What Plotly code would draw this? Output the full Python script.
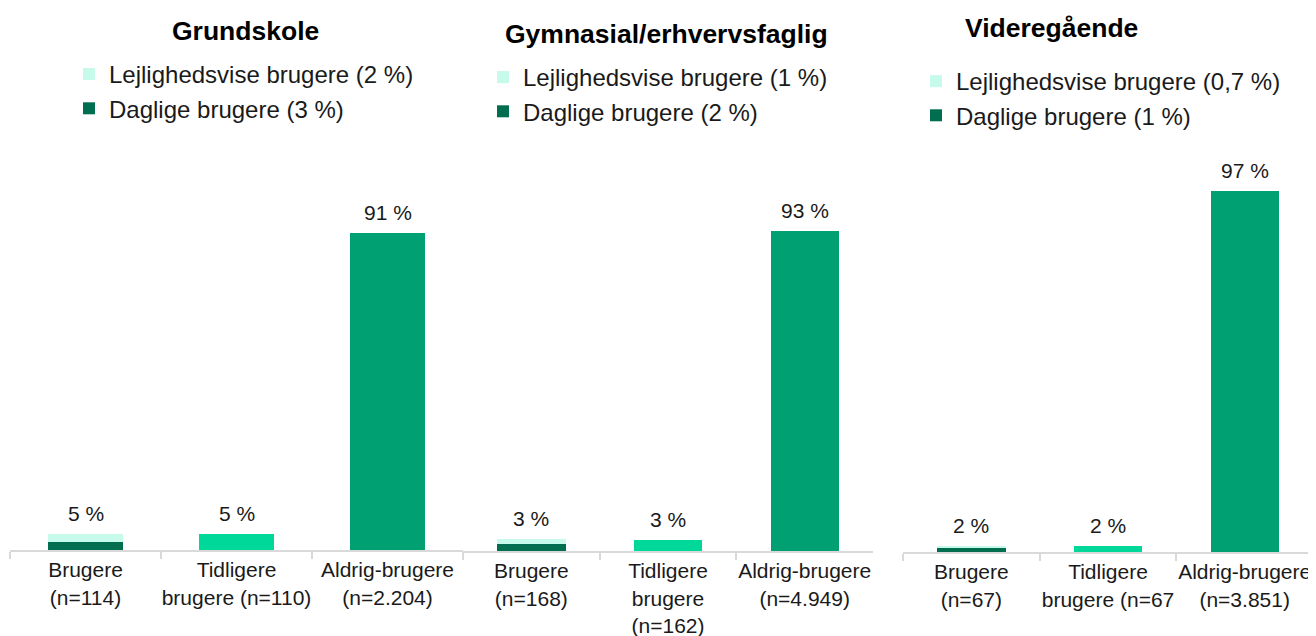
import plotly.graph_objects as go

# ── data ───────────────────────────────────────────────────────────────────
panels = ["Grundskole", "Gymnasial/erhvervsfaglig", "Videregående"]

categories = [
    ["Brugere<br>(n=114)", "Tidligere<br>brugere (n=110)", "Aldrig-brugere<br>(n=2.204)"],
    ["Brugere<br>(n=168)", "Tidligere<br>brugere<br>(n=162)", "Aldrig-brugere<br>(n=4.949)"],
    ["Brugere<br>(n=67)", "Tidligere<br>brugere (n=67", "Aldrig-brugere<br>(n=3.851)"],
]

daglige = [2.4, 2.0, 1.0]            # dark part of "Brugere" bar
lejlighedsvise = [2.2, 1.4, 0.7]     # light part of "Brugere" bar
tidligere = [4.6, 3.2, 1.6]
aldrig = [91, 93, 97]

bar_labels = [
    ["5 %", "5 %", "91 %"],
    ["3 %", "3 %", "93 %"],
    ["2 %", "2 %", "97 %"],
]

legend_lejl = ["Lejlighedsvise brugere (2 %)", "Lejlighedsvise brugere (1 %)",
               "Lejlighedsvise brugere (0,7 %)"]
legend_dagl = ["Daglige brugere (3 %)", "Daglige brugere (2 %)", "Daglige brugere (1 %)"]

# colours
C_DAGLIGE = "#006E4F"
C_LEJL = "#C6FAEA"
C_TIDL = "#00D89A"
C_ALDRIG = "#00A073"
AXIS_GREY = "#D9D9D9"

W, H = 1316, 636
OFF = 8  # page body margin, the figure is drawn 8px in from the corner

def px_x(v):
    return (v - OFF) / W

def px_y(v):
    return 1 - (v - OFF) / H

# panel geometry in pixels (left, right, baseline, top-of-100%)
x_px = [(10, 463), (463, 873), (903, 1313)]
y_px = [(550, 201.6), (551, 207), (552, 180)]
title_pos = [(245, 31), (666, 34), (1051, 28)]
legend_pos = [(69, 52), (483, 55), (916, 59)]

fig = go.Figure()

for i in range(3):
    n = "" if i == 0 else str(i + 1)
    xa, ya = "x" + n, "y" + n
    leg = "legend" + n
    cats = categories[i]

    fig.add_trace(go.Bar(
        x=[cats[0]], y=[daglige[i]], name=legend_dagl[i],
        marker=dict(color=C_DAGLIGE, line=dict(width=0)),
        xaxis=xa, yaxis=ya, legend=leg, legendgroup="d" + n,
        legendrank=2, hoverinfo="skip",
    ))
    fig.add_trace(go.Bar(
        x=[cats[0]], y=[lejlighedsvise[i]], name=legend_lejl[i],
        marker=dict(color=C_LEJL, line=dict(width=0)),
        xaxis=xa, yaxis=ya, legend=leg, legendgroup="l" + n,
        legendrank=1, hoverinfo="skip",
    ))
    fig.add_trace(go.Bar(
        x=cats[1:], y=[tidligere[i], aldrig[i]],
        marker=dict(color=[C_TIDL, C_ALDRIG], line=dict(width=0)),
        xaxis=xa, yaxis=ya, showlegend=False, hoverinfo="skip",
    ))

    # value labels on top of each bar
    totals = [daglige[i] + lejlighedsvise[i], tidligere[i], aldrig[i]]
    for c, t, lab in zip(cats, totals, bar_labels[i]):
        fig.add_annotation(
            x=c, y=t, xref=xa, yref=ya, text=lab, showarrow=False,
            yanchor="bottom", yshift=7,
            font=dict(size=21, color="#1A1A1A"),
        )

    # panel title
    tx, ty = title_pos[i]
    fig.add_annotation(
        x=px_x(tx), y=px_y(ty), xref="paper", yref="paper",
        text="<b>" + panels[i] + "</b>", showarrow=False,
        xanchor="center", yanchor="middle",
        font=dict(size=26.5, color="#000000"),
    )

    x0, x1 = x_px[i]
    yb, yt = y_px[i]
    fig.update_layout(**{
        "xaxis" + n: dict(
            domain=[max(px_x(x0), 0), px_x(x1)], anchor=ya,
            showline=True, linecolor=AXIS_GREY, linewidth=2,
            ticks="outside", tickson="boundaries", ticklen=7,
            tickcolor=AXIS_GREY, tickwidth=2, tickangle=0,
            showgrid=False, zeroline=False, fixedrange=True,
            automargin=False,
            tickfont=dict(size=21, color="#1A1A1A"),
        ),
        "yaxis" + n: dict(
            domain=[px_y(yb), px_y(yt)], anchor=xa,
            range=[0, 100], visible=False, fixedrange=True,
            automargin=False,
        ),
    })

    lx, ly = legend_pos[i]
    fig.update_layout(**{
        leg: dict(
            x=px_x(lx), y=px_y(ly), xanchor="left", yanchor="top",
            xref="paper", yref="paper",
            traceorder="grouped", tracegroupgap=0,
            bgcolor="rgba(0,0,0,0)", borderwidth=0,
            font=dict(size=24, color="#1A1A1A"),
        )
    })

fig.update_layout(
    width=W, height=H,
    barmode="stack", bargap=0.5,
    margin=dict(l=0, r=0, t=0, b=0, autoexpand=False),
    paper_bgcolor="white", plot_bgcolor="white",
    font=dict(family="Liberation Sans, Arial, sans-serif", color="#1A1A1A"),
    showlegend=True,
)

fig.write_html("out.html")
